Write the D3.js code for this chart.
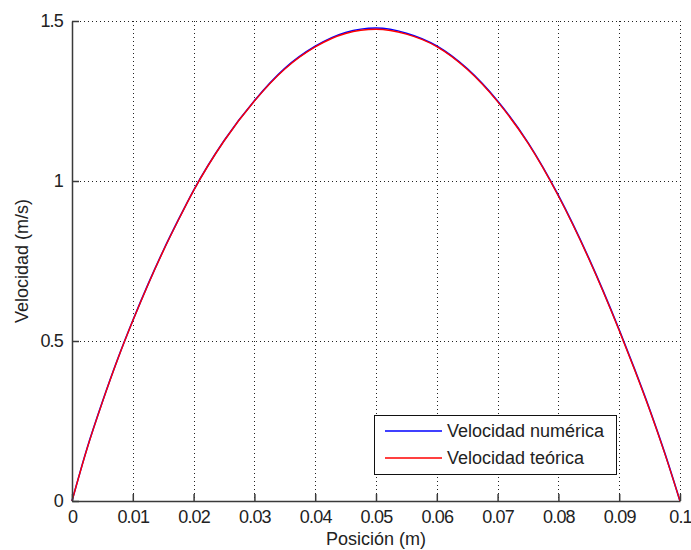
<!DOCTYPE html>
<html>
<head>
<meta charset="utf-8">
<script src="https://cdn.jsdelivr.net/npm/d3@7"></script>
<style>
  html, body { margin: 0; padding: 0; background: #fff; }
  svg { display: block; }
  text { font-family: "Liberation Sans", Arial, sans-serif; fill: #222; }
</style>
</head>
<body>
<svg id="chart" width="691" height="550"></svg>
<script>
// ---- data ----
const positions = [0, 0.0025, 0.005, 0.0075, 0.01, 0.0125, 0.015, 0.0175, 0.02, 0.025, 0.03, 0.035, 0.04, 0.045, 0.05, 0.055, 0.06, 0.065, 0.07, 0.075, 0.08, 0.085, 0.09, 0.0925, 0.095, 0.0975, 0.1];
const velTeorica = [0, 0.165, 0.309, 0.442, 0.563, 0.676, 0.781, 0.878, 0.970, 1.125, 1.250, 1.350, 1.419, 1.461, 1.474, 1.459, 1.420, 1.349, 1.248, 1.118, 0.953, 0.757, 0.533, 0.412, 0.285, 0.148, 0];
const velNumerica = [0, 0.166, 0.310, 0.443, 0.564, 0.677, 0.782, 0.879, 0.971, 1.126, 1.251, 1.352, 1.421, 1.464, 1.478, 1.462, 1.422, 1.351, 1.250, 1.120, 0.955, 0.759, 0.535, 0.414, 0.287, 0.150, 0];
const xTicks = [0, 0.01, 0.02, 0.03, 0.04, 0.05, 0.06, 0.07, 0.08, 0.09, 0.1];
const xTickLabels = ["0", "0.01", "0.02", "0.03", "0.04", "0.05", "0.06", "0.07", "0.08", "0.09", "0.1"];
const yTicks = [0, 0.5, 1, 1.5];
const yTickLabels = ["0", "0.5", "1", "1.5"];
const seriesNames = ["Velocidad numérica", "Velocidad teórica"];
const seriesColors = ["#0000ff", "#ff0000"];

// ---- layout ----
const svg = d3.select("#chart");
const x = d3.scaleLinear().domain([0, 0.1]).range([72, 680]);
const y = d3.scaleLinear().domain([0, 1.5]).range([501, 21]);

// grid
const grid = svg.append("g").attr("stroke", "#222").attr("stroke-width", 1)
  .attr("stroke-dasharray", "1,3").attr("fill", "none");
xTicks.filter(d => d > 0).forEach(d => {
  const px = Math.round(x(d)) + 0.5;
  grid.append("line").attr("x1", px).attr("x2", px).attr("y1", y(1.5)).attr("y2", y(0));
});
yTicks.filter(d => d > 0).forEach(d => {
  const py = Math.round(y(d)) + 0.5;
  grid.append("line").attr("x1", x(0)).attr("x2", x(0.1)).attr("y1", py).attr("y2", py);
});

// lines
const line = (vals) => d3.line()
  .x((d, i) => x(positions[i]))
  .y(d => y(d))
  .curve(d3.curveMonotoneX)(vals);

svg.append("path").attr("d", line(velNumerica))
  .attr("fill", "none").attr("stroke", seriesColors[0]).attr("stroke-width", 1.6);
svg.append("path").attr("d", line(velTeorica))
  .attr("fill", "none").attr("stroke", seriesColors[1]).attr("stroke-width", 1.4);

// axes
const xAxis = d3.axisBottom(x).tickValues(xTicks).tickSizeInner(-7).tickSizeOuter(0)
  .tickPadding(12).tickFormat((d, i) => xTickLabels[i]);
const gx = svg.append("g").attr("transform", `translate(0,${y(0)})`).call(xAxis);
const yAxis = d3.axisLeft(y).tickValues(yTicks).tickSizeInner(-7).tickSizeOuter(0)
  .tickPadding(9).tickFormat((d, i) => yTickLabels[i]);
const gy = svg.append("g").attr("transform", `translate(${x(0)},0)`).call(yAxis);

[gx, gy].forEach(g => {
  g.select(".domain").attr("stroke", "#3a3a3a").attr("stroke-width", 1.5);
  g.selectAll(".tick line").attr("stroke", "#3a3a3a").attr("stroke-width", 1.5);
  g.selectAll(".tick text").attr("font-family", "Liberation Sans, Arial, sans-serif")
    .attr("font-size", 18).attr("letter-spacing", "-0.8px").attr("fill", "#222");
});
gx.selectAll(".tick text").attr("dy", "0.55em");

// axis titles
svg.append("text").attr("x", (x(0) + x(0.1)) / 2).attr("y", 545)
  .attr("text-anchor", "middle").attr("font-size", 18).text("Posición (m)");
svg.append("text").attr("transform", `translate(28,${(y(0) + y(1.5)) / 2}) rotate(-90)`)
  .attr("text-anchor", "middle").attr("font-size", 18).text("Velocidad (m/s)");

// legend
const lg = svg.append("g");
lg.append("rect").attr("x", 374.5).attr("y", 415.5).attr("width", 242).attr("height", 59)
  .attr("fill", "#fff").attr("stroke", "#111").attr("stroke-width", 1);
seriesNames.forEach((name, i) => {
  const cy = 431 + i * 27;
  lg.append("line").attr("x1", 385).attr("x2", 442).attr("y1", cy).attr("y2", cy)
    .attr("stroke", seriesColors[i]).attr("stroke-width", 1.4);
  lg.append("text").attr("x", 447).attr("y", cy + 6).attr("font-size", 18).text(name);
});
</script>
</body>
</html>
